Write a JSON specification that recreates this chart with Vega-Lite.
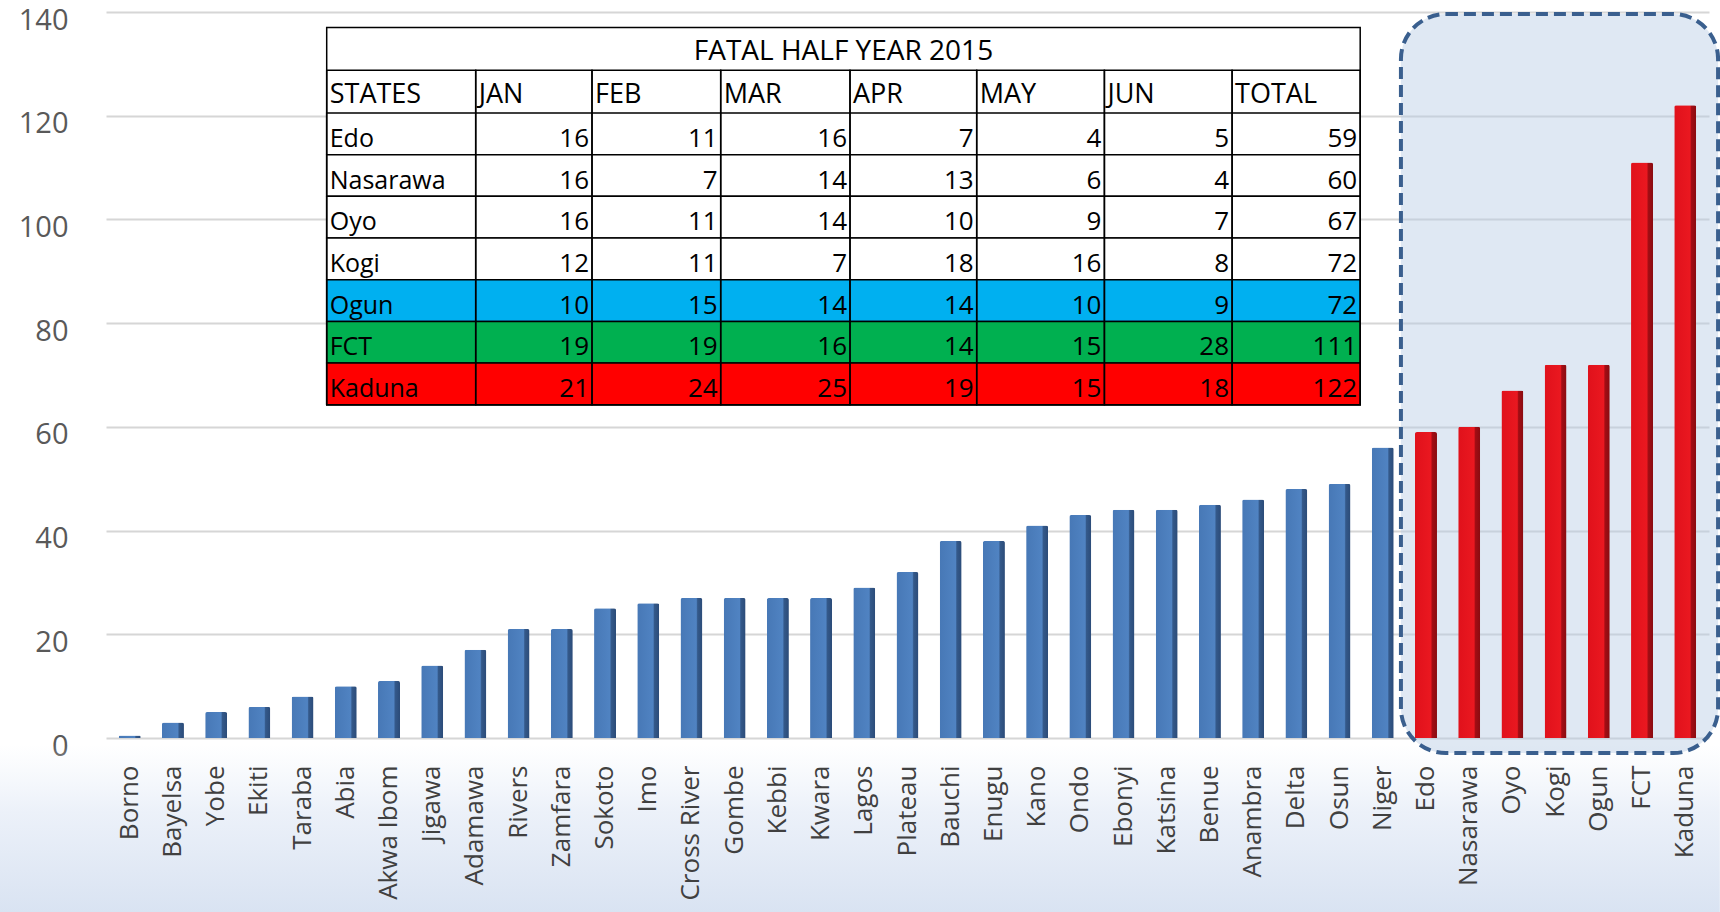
{
  "$schema": "https://vega.github.io/schema/vega-lite/v6.json",
  "width": 1603,
  "height": 726,
  "autosize": {"type": "none"},
  "padding": {"left": 106, "top": 12, "right": 11, "bottom": 174},
  "background": "#ffffff",
  "config": {"view": {"stroke": null}, "font": "Open Sans"},
  "datasets": {
    "bars": [
      {"state": "Borno", "v": 0.5, "g": "base"},
      {"state": "Bayelsa", "v": 3, "g": "base"},
      {"state": "Yobe", "v": 5, "g": "base"},
      {"state": "Ekiti", "v": 6, "g": "base"},
      {"state": "Taraba", "v": 8, "g": "base"},
      {"state": "Abia", "v": 10, "g": "base"},
      {"state": "Akwa Ibom", "v": 11, "g": "base"},
      {"state": "Jigawa", "v": 14, "g": "base"},
      {"state": "Adamawa", "v": 17, "g": "base"},
      {"state": "Rivers", "v": 21, "g": "base"},
      {"state": "Zamfara", "v": 21, "g": "base"},
      {"state": "Sokoto", "v": 25, "g": "base"},
      {"state": "Imo", "v": 26, "g": "base"},
      {"state": "Cross River", "v": 27, "g": "base"},
      {"state": "Gombe", "v": 27, "g": "base"},
      {"state": "Kebbi", "v": 27, "g": "base"},
      {"state": "Kwara", "v": 27, "g": "base"},
      {"state": "Lagos", "v": 29, "g": "base"},
      {"state": "Plateau", "v": 32, "g": "base"},
      {"state": "Bauchi", "v": 38, "g": "base"},
      {"state": "Enugu", "v": 38, "g": "base"},
      {"state": "Kano", "v": 41, "g": "base"},
      {"state": "Ondo", "v": 43, "g": "base"},
      {"state": "Ebonyi", "v": 44, "g": "base"},
      {"state": "Katsina", "v": 44, "g": "base"},
      {"state": "Benue", "v": 45, "g": "base"},
      {"state": "Anambra", "v": 46, "g": "base"},
      {"state": "Delta", "v": 48, "g": "base"},
      {"state": "Osun", "v": 49, "g": "base"},
      {"state": "Niger", "v": 56, "g": "base"},
      {"state": "Edo", "v": 59, "g": "top"},
      {"state": "Nasarawa", "v": 60, "g": "top"},
      {"state": "Oyo", "v": 67, "g": "top"},
      {"state": "Kogi", "v": 72, "g": "top"},
      {"state": "Ogun", "v": 72, "g": "top"},
      {"state": "FCT", "v": 111, "g": "top"},
      {"state": "Kaduna", "v": 122, "g": "top"}
    ],
    "tbl": [
      {"state": "Edo", "JAN": 16, "FEB": 11, "MAR": 16, "APR": 7, "MAY": 4, "JUN": 5, "TOTAL": 59},
      {"state": "Nasarawa", "JAN": 16, "FEB": 7, "MAR": 14, "APR": 13, "MAY": 6, "JUN": 4, "TOTAL": 60},
      {"state": "Oyo", "JAN": 16, "FEB": 11, "MAR": 14, "APR": 10, "MAY": 9, "JUN": 7, "TOTAL": 67},
      {"state": "Kogi", "JAN": 12, "FEB": 11, "MAR": 7, "APR": 18, "MAY": 16, "JUN": 8, "TOTAL": 72},
      {"state": "Ogun", "JAN": 10, "FEB": 15, "MAR": 14, "APR": 14, "MAY": 10, "JUN": 9, "TOTAL": 72},
      {"state": "FCT", "JAN": 19, "FEB": 19, "MAR": 16, "APR": 14, "MAY": 15, "JUN": 28, "TOTAL": 111},
      {"state": "Kaduna", "JAN": 21, "FEB": 24, "MAR": 25, "APR": 19, "MAY": 15, "JUN": 18, "TOTAL": 122}
    ],
    "cols": [
      {"h": "STATES", "l": 0, "r": 1},
      {"h": "JAN", "l": 1, "r": 2},
      {"h": "FEB", "l": 2, "r": 3},
      {"h": "MAR", "l": 3, "r": 4},
      {"h": "APR", "l": 4, "r": 5},
      {"h": "MAY", "l": 5, "r": 6},
      {"h": "JUN", "l": 6, "r": 7},
      {"h": "TOTAL", "l": 7, "r": 8}
    ]
  },
  "resolve": {"scale": {"x": "independent", "y": "independent", "fill": "independent"}, "axis": {"x": "independent", "y": "independent"}},
  "layer": [
    {
      "data": {"values": [{}]},
      "mark": {"type": "rect", "fill": {"gradient": "linear", "x1": 0, "y1": 0, "x2": 0, "y2": 1, "stops": [{"offset": 0, "color": "rgba(238,243,250,0)"}, {"offset": 0.4, "color": "rgba(236,241,249,1)"}, {"offset": 1, "color": "rgba(217,227,242,1)"}]}},
      "encoding": {
        "x": {"datum": -2.01, "type": "quantitative", "scale": {"domain": [0.45, 37.55], "nice": false, "zero": false}, "axis": null},
        "x2": {"datum": 37.8},
        "y": {"datum": -1.2, "type": "quantitative", "scale": {"domain": [0, 140], "nice": false, "zero": false}, "axis": null},
        "y2": {"datum": -33.6}
      }
    },
    {
      "data": {"values": [{}]},
      "mark": {"type": "rect", "cornerRadius": 45, "fill": "#B8CCE4", "fillOpacity": 0.45, "stroke": "#3A5F8E", "strokeWidth": 4, "strokeDash": [12, 6]},
      "encoding": {
        "x": {"datum": 30.42, "type": "quantitative", "scale": {"domain": [0.45, 37.55], "nice": false, "zero": false}, "axis": null},
        "x2": {"datum": 37.76},
        "y": {"datum": -2.9, "type": "quantitative", "scale": {"domain": [0, 140], "nice": false, "zero": false}, "axis": null},
        "y2": {"datum": 139.6}
      }
    },
    {
      "data": {"name": "bars"},
      "mark": {"type": "bar", "size": 22, "cornerRadiusTopLeft": 2, "cornerRadiusTopRight": 2},
      "encoding": {
        "x": {"field": "state", "type": "nominal", "sort": null, "scale": {"paddingInner": 0, "paddingOuter": 0.05},
          "axis": {"title": null, "labelAngle": -90, "labelFont": "Open Sans", "labelFontSize": 26, "labelColor": "#404040", "ticks": false, "domain": false, "labelPadding": 27, "labelLimit": 300, "zindex": 1}},
        "y": {"field": "v", "type": "quantitative", "scale": {"domain": [0, 140], "nice": false},
          "axis": {"title": null, "values": [0, 20, 40, 60, 80, 100, 120, 140], "grid": true, "gridColor": "#D6D6D6", "gridWidth": 2, "domain": false, "ticks": false, "labelPadding": 38, "labelFontSize": 29, "labelColor": "#595959", "labelOffset": 8, "labelFont": "Open Sans"}},
        "fill": {
          "condition": {"test": "datum.g == 'top'", "value": {"gradient": "linear", "x1": 0, "y1": 0, "x2": 1, "y2": 0, "stops": [{"offset": 0, "color": "#E0111B"}, {"offset": 0.72, "color": "#EA1820"}, {"offset": 0.78, "color": "#A30D14"}, {"offset": 1, "color": "#8A0B10"}]}},
          "value": {"gradient": "linear", "x1": 0, "y1": 0, "x2": 1, "y2": 0, "stops": [{"offset": 0, "color": "#4778B6"}, {"offset": 0.72, "color": "#5083C2"}, {"offset": 0.78, "color": "#34598A"}, {"offset": 1, "color": "#2B4B78"}]}
        }
      }
    },
    {
      "data": {"values": [{}]},
      "mark": {"type": "rect", "fill": "#ffffff", "stroke": "#000000", "strokeWidth": 1.5},
      "encoding": {
        "x": {"datum": 0, "type": "quantitative", "scale": {"domain": [0, 1, 2, 3, 4, 5, 6, 7, 8], "range": [220.7, 369.7, 486, 614.7, 744, 870.7, 998.4, 1126.1, 1254.2], "nice": false, "zero": false}, "axis": null},
        "x2": {"datum": 8},
        "y": {"datum": 0, "type": "quantitative", "scale": {"domain": [0, 1, 2, 9], "range": [15.4, 58.2, 101, 392.8], "nice": false, "zero": false}, "axis": null},
        "y2": {"datum": 9}
      }
    },
    {
      "data": {"name": "tbl"},
      "mark": {"type": "bar", "stroke": "#000000", "strokeWidth": 1.5},
      "encoding": {
        "x": {"datum": 0, "type": "quantitative", "scale": {"domain": [0, 1, 2, 3, 4, 5, 6, 7, 8], "range": [220.7, 369.7, 486, 614.7, 744, 870.7, 998.4, 1126.1, 1254.2], "nice": false, "zero": false}, "axis": null},
        "x2": {"datum": 8},
        "y": {"field": "state", "type": "nominal", "sort": null, "scale": {"domain": ["Edo", "Nasarawa", "Oyo", "Kogi", "Ogun", "FCT", "Kaduna"], "range": [101, 392.8], "paddingInner": 0, "paddingOuter": 0}, "axis": null},
        "fill": {"field": "state", "type": "nominal", "scale": {"domain": ["Edo", "Nasarawa", "Oyo", "Kogi", "Ogun", "FCT", "Kaduna"], "range": ["#ffffff", "#ffffff", "#ffffff", "#ffffff", "#00B0F0", "#00B050", "#FF0000"]}, "legend": null}
      }
    },
    {
      "data": {"name": "cols"},
      "mark": {"type": "rect", "fillOpacity": 0, "stroke": "#000000", "strokeWidth": 1.5},
      "encoding": {
        "x": {"field": "l", "type": "quantitative", "scale": {"domain": [0, 1, 2, 3, 4, 5, 6, 7, 8], "range": [220.7, 369.7, 486, 614.7, 744, 870.7, 998.4, 1126.1, 1254.2], "nice": false, "zero": false}, "axis": null},
        "x2": {"field": "r"},
        "y": {"datum": 1, "type": "quantitative", "scale": {"domain": [0, 1, 2, 9], "range": [15.4, 58.2, 101, 392.8], "nice": false, "zero": false}, "axis": null},
        "y2": {"datum": 9}
      }
    },
    {
      "data": {"name": "cols"},
      "mark": {"type": "text", "align": "left", "baseline": "alphabetic", "dx": 3, "dy": -10, "fontSize": 27, "font": "Open Sans", "color": "#000000"},
      "encoding": {
        "x": {"field": "l", "type": "quantitative", "scale": {"domain": [0, 1, 2, 3, 4, 5, 6, 7, 8], "range": [220.7, 369.7, 486, 614.7, 744, 870.7, 998.4, 1126.1, 1254.2], "nice": false, "zero": false}, "axis": null},
        "y": {"datum": 2, "type": "quantitative", "scale": {"domain": [0, 1, 2, 9], "range": [15.4, 58.2, 101, 392.8], "nice": false, "zero": false}, "axis": null},
        "text": {"field": "h", "type": "nominal"}
      }
    },
    {
      "data": {"name": "tbl"},
      "mark": {"type": "text", "align": "left", "baseline": "alphabetic", "dx": 3, "dy": 13, "fontSize": 25, "font": "Open Sans", "color": "#000000"},
      "encoding": {
        "x": {"datum": 0, "type": "quantitative", "scale": {"domain": [0, 1, 2, 3, 4, 5, 6, 7, 8], "range": [220.7, 369.7, 486, 614.7, 744, 870.7, 998.4, 1126.1, 1254.2], "nice": false, "zero": false}, "axis": null},
        "y": {"field": "state", "type": "nominal", "sort": null, "scale": {"domain": ["Edo", "Nasarawa", "Oyo", "Kogi", "Ogun", "FCT", "Kaduna"], "range": [101, 392.8], "paddingInner": 0, "paddingOuter": 0}, "axis": null},
        "text": {"field": "state", "type": "nominal"}
      }
    },
    {
      "data": {"name": "tbl"},
      "transform": [
        {"fold": ["JAN", "FEB", "MAR", "APR", "MAY", "JUN", "TOTAL"], "as": ["h", "n"]},
        {"lookup": "h", "from": {"data": {"name": "cols"}, "key": "h", "fields": ["r"]}}
      ],
      "mark": {"type": "text", "align": "right", "baseline": "alphabetic", "dx": -3, "dy": 13, "fontSize": 26, "font": "Open Sans", "color": "#000000"},
      "encoding": {
        "x": {"field": "r", "type": "quantitative", "scale": {"domain": [0, 1, 2, 3, 4, 5, 6, 7, 8], "range": [220.7, 369.7, 486, 614.7, 744, 870.7, 998.4, 1126.1, 1254.2], "nice": false, "zero": false}, "axis": null},
        "y": {"field": "state", "type": "nominal", "sort": null, "scale": {"domain": ["Edo", "Nasarawa", "Oyo", "Kogi", "Ogun", "FCT", "Kaduna"], "range": [101, 392.8], "paddingInner": 0, "paddingOuter": 0}, "axis": null},
        "text": {"field": "n", "type": "nominal"}
      }
    },
    {
      "data": {"values": [{}]},
      "mark": {"type": "text", "align": "center", "baseline": "alphabetic", "dy": -10, "fontSize": 28, "font": "Open Sans", "color": "#000000"},
      "encoding": {
        "x": {"datum": 4, "type": "quantitative", "scale": {"domain": [0, 8], "range": [220.7, 1254.2], "nice": false, "zero": false}, "axis": null},
        "y": {"datum": 1, "type": "quantitative", "scale": {"domain": [0, 1, 2, 9], "range": [15.4, 58.2, 101, 392.8], "nice": false, "zero": false}, "axis": null},
        "text": {"value": "FATAL HALF YEAR 2015"}
      }
    }
  ]
}
